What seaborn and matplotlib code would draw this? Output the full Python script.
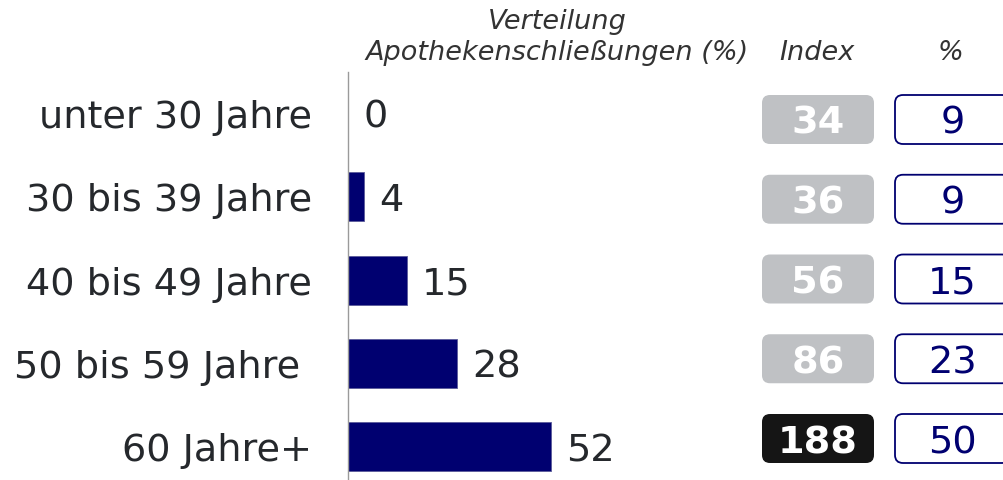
import matplotlib
matplotlib.use("Agg")
import matplotlib.pyplot as plt
from matplotlib.patches import FancyBboxPatch
import seaborn as sns
import pandas as pd

# ---- data ----
categories = ["unter 30 Jahre", "30 bis 39 Jahre", "40 bis 49 Jahre", "50 bis 59 Jahre ", "60 Jahre+"]
share_closures = [0, 4, 15, 28, 52]
index_values = [34, 36, 56, 86, 188]
pct_values = [9, 9, 15, 23, 50]

header_main = "Verteilung\nApothekenschließungen (%)"
header_index = "Index"
header_pct = "%"

# ---- style ----
sns.set_style("white")
plt.rcParams["font.family"] = ["DejaVu Sans"]

NAVY = "#000070"
TEXT = "#25282c"
HEAD = "#333333"
GRAY_BOX = "#bfc1c4"
BLACK_BOX = "#151515"
W, H = 1004, 480
PX_PER_UNIT = 3.9
FS = 27.5
PT = 0.72  # points per pixel at dpi 100

fig = plt.figure(figsize=(W / 100, H / 100), dpi=100)
ax_left_px, ax_top_px = 348, 72
ax = fig.add_axes([ax_left_px / W, 0, (W - ax_left_px) / W, (H - ax_top_px) / H])

df = pd.DataFrame({"cat": categories, "val": share_closures})
sns.barplot(data=df, x="val", y="cat", orient="h", color=NAVY, width=0.59,
            saturation=1, edgecolor="#5a5a9a", linewidth=0.6, ax=ax)

ax.set_xlim(0, (W - ax_left_px) / PX_PER_UNIT)
row_px = 83.3
row0_px = 113.5
ax.set_ylim(4 + (480 - (row0_px + 4 * row_px)) / row_px, -(row0_px - ax_top_px) / row_px)

for s in ["top", "right", "bottom"]:
    ax.spines[s].set_visible(False)
ax.spines["left"].set_color("#9a9a9a")
ax.spines["left"].set_linewidth(1.0)
ax.set_xlabel("")
ax.set_ylabel("")
ax.set_xticks([])
ax.tick_params(axis="y", length=0)
ax.set_yticklabels([])

BASE_OFF = -14.5 * PT  # baseline offset below row centre (points)

# category labels
for i, c in enumerate(categories):
    ax.annotate(c, xy=(0, i), xycoords=("axes fraction", "data"),
                xytext=(-36 * PT, BASE_OFF), textcoords="offset points",
                ha="right", va="baseline", fontsize=FS, color=TEXT)

# value labels
for i, v in enumerate(share_closures):
    ax.annotate(str(v), xy=(v, i), xytext=(11, BASE_OFF), textcoords="offset points",
                ha="left", va="baseline", fontsize=FS, color=TEXT)

# boxes
def px_to_x(px):
    return (px - ax_left_px) / PX_PER_UNIT

aspect = PX_PER_UNIT / row_px
box_h = 49 / row_px
radius = 8 / PX_PER_UNIT
box0_px, box_step_px = 119.5, 79.75
max_idx = max(index_values)
for i, (iv, pv) in enumerate(zip(index_values, pct_values)):
    yc = (box0_px + box_step_px * i - row0_px) / row_px
    # index box
    x0, x1 = px_to_x(762), px_to_x(874)
    fc = BLACK_BOX if iv == max_idx else GRAY_BOX
    ax.add_patch(FancyBboxPatch((x0, yc - box_h / 2), x1 - x0, box_h,
                                boxstyle=f"round,pad=0,rounding_size={radius}",
                                mutation_aspect=aspect, fc=fc, ec="none"))
    ax.annotate(str(iv), xy=((x0 + x1) / 2, yc), xytext=(0, BASE_OFF),
                textcoords="offset points", ha="center", va="baseline",
                fontsize=FS, fontweight="bold", color="white")
    # pct box
    x0, x1 = px_to_x(895), px_to_x(1010)
    ax.add_patch(FancyBboxPatch((x0, yc - box_h / 2), x1 - x0, box_h,
                                boxstyle=f"round,pad=0,rounding_size={radius}",
                                mutation_aspect=aspect, fc="white", ec=NAVY, lw=1.3))
    ax.annotate(str(pv), xy=((x0 + x1) / 2, yc), xytext=(0, BASE_OFF),
                textcoords="offset points", ha="center", va="baseline",
                fontsize=FS, color=NAVY)

# headers
HFS = 19.5
fig.text(557 / W, 1 - 60 / H, header_main, ha="center", va="baseline", fontsize=HFS,
         style="italic", color=HEAD, linespacing=1.25, multialignment="center")
fig.text(817 / W, 1 - 60 / H, header_index, ha="center", va="baseline", fontsize=HFS,
         style="italic", color=HEAD)
fig.text(950 / W, 1 - 60 / H, header_pct, ha="center", va="baseline", fontsize=HFS,
         style="italic", color=HEAD)

fig.savefig("out.png", dpi=100)
